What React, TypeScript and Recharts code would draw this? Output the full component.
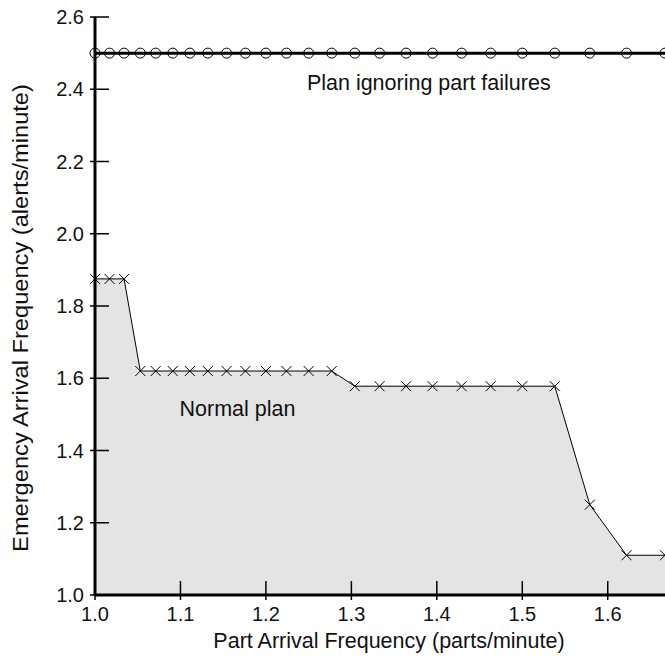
import React from 'react';
import { ComposedChart, Line, Area, XAxis, YAxis, ReferenceDot, Label } from 'recharts';

const partFrequency = [1.0, 1.017, 1.034, 1.053, 1.071, 1.091, 1.111, 1.132, 1.154, 1.176, 1.2, 1.224, 1.25, 1.277, 1.304, 1.333, 1.364, 1.395, 1.429, 1.463, 1.5, 1.538, 1.579, 1.622, 1.667];
const ignoringFailures = [2.5, 2.5, 2.5, 2.5, 2.5, 2.5, 2.5, 2.5, 2.5, 2.5, 2.5, 2.5, 2.5, 2.5, 2.5, 2.5, 2.5, 2.5, 2.5, 2.5, 2.5, 2.5, 2.5, 2.5, 2.5];
const normalPlan = [1.875, 1.875, 1.875, 1.62, 1.62, 1.62, 1.62, 1.62, 1.62, 1.62, 1.62, 1.62, 1.62, 1.62, 1.578, 1.578, 1.578, 1.578, 1.578, 1.578, 1.578, 1.578, 1.25, 1.11, 1.11];
const xTicks = [1.0, 1.1, 1.2, 1.3, 1.4, 1.5, 1.6];
const yTicks = [1.0, 1.2, 1.4, 1.6, 1.8, 2.0, 2.2, 2.4, 2.6];

const data = partFrequency.map((x, i) => ({ x, plan: ignoringFailures[i], normal: normalPlan[i] }));

const FONT = '"Liberation Sans", Arial, Helvetica, sans-serif';
const TICK_SIZE = 5;
const TICK_MARGIN = 6;
const TEXT = '#111';

const XTick = (props: any) => {
  const { x, y, payload } = props;
  const axisY = y - TICK_SIZE - TICK_MARGIN;
  return (
    <g>
      <line x1={x} x2={x} y1={axisY} y2={axisY - 14} stroke="#000" strokeWidth={1.5} />
      <text x={x} y={y} dy={15} textAnchor="middle" fontFamily={FONT} fontSize={20} fill={TEXT}>
        {Number(payload.value).toFixed(1)}
      </text>
    </g>
  );
};

const YTick = (props: any) => {
  const { x, y, payload } = props;
  const axisX = x + TICK_SIZE + TICK_MARGIN;
  return (
    <g>
      <line x1={axisX} x2={axisX + 14} y1={y} y2={y} stroke="#000" strokeWidth={1.5} />
      <text x={x} y={y} dy={7} textAnchor="end" fontFamily={FONT} fontSize={20} fill={TEXT}>
        {Number(payload.value).toFixed(1)}
      </text>
    </g>
  );
};

const Circle = (props: any) => {
  const { cx, cy, index } = props;
  if (cx == null || cy == null) return <g key={index} />;
  return <circle key={index} cx={cx} cy={cy} r={5} fill="none" stroke="#000" strokeWidth={1} />;
};

const Cross = (props: any) => {
  const { cx, cy, index } = props;
  if (cx == null || cy == null) return <g key={index} />;
  const s = 5;
  return (
    <path
      key={index}
      d={`M${cx - s},${cy - s}L${cx + s},${cy + s}M${cx - s},${cy + s}L${cx + s},${cy - s}`}
      stroke="#000"
      strokeWidth={1}
      fill="none"
    />
  );
};

export default function App() {
  return (
    <div style={{ position: 'absolute', left: 0, top: 0, width: 665, height: 658, background: '#fff' }}>
      <ComposedChart width={665} height={658} data={data} margin={{ top: 17, right: 0, bottom: 0, left: 0 }}>
        <XAxis
          dataKey="x"
          type="number"
          domain={[1.0, 1.667]}
          ticks={xTicks}
          height={63}
          axisLine={{ stroke: '#000', strokeWidth: 3 }}
          tickLine={{ stroke: '#000', strokeWidth: 1.5 }}
          tickSize={TICK_SIZE}
          tickMargin={TICK_MARGIN}
          tick={<XTick />}
          interval={0}
        >
          <Label
            content={() => (
              <text x={389} y={648} textAnchor="middle" fontFamily={FONT} fontSize={21.5} fill={TEXT}>
                Part Arrival Frequency (parts/minute)
              </text>
            )}
          />
        </XAxis>
        <YAxis
          type="number"
          domain={[1.0, 2.6]}
          ticks={yTicks}
          width={95}
          axisLine={{ stroke: '#000', strokeWidth: 3 }}
          tickLine={{ stroke: '#000', strokeWidth: 1.5 }}
          tickSize={TICK_SIZE}
          tickMargin={TICK_MARGIN}
          tick={<YTick />}
          interval={0}
        >
          <Label
            content={() => (
              <text
                x={0}
                y={0}
                textAnchor="middle"
                fontFamily={FONT}
                fontSize={21.5}
                fill={TEXT}
                transform="translate(28 318) rotate(-90) scale(1.1 1)"
              >
                Emergency Arrival Frequency (alerts/minute)
              </text>
            )}
          />
        </YAxis>
        <Area
          type="linear"
          dataKey="normal"
          stroke="#000"
          strokeWidth={1}
          fill="#e4e4e4"
          fillOpacity={1}
          dot={<Cross />}
          activeDot={false}
          isAnimationActive={false}
        />
        <Line
          type="linear"
          dataKey="plan"
          stroke="#000"
          strokeWidth={3}
          dot={<Circle />}
          activeDot={false}
          isAnimationActive={false}
        />
        <ReferenceDot x={1.3906} y={2.398} r={0} ifOverflow="visible">
          <Label
            content={(p: any) => (
              <text x={p.viewBox.x} y={p.viewBox.y} textAnchor="middle" fontFamily={FONT} fontSize={21.5} fill={TEXT}>
                Plan ignoring part failures
              </text>
            )}
          />
        </ReferenceDot>
        <ReferenceDot x={1.1667} y={1.496} r={0} ifOverflow="visible">
          <Label
            content={(p: any) => (
              <text x={p.viewBox.x} y={p.viewBox.y} textAnchor="middle" fontFamily={FONT} fontSize={21.5} fill={TEXT}>
                Normal plan
              </text>
            )}
          />
        </ReferenceDot>
      </ComposedChart>
    </div>
  );
}
